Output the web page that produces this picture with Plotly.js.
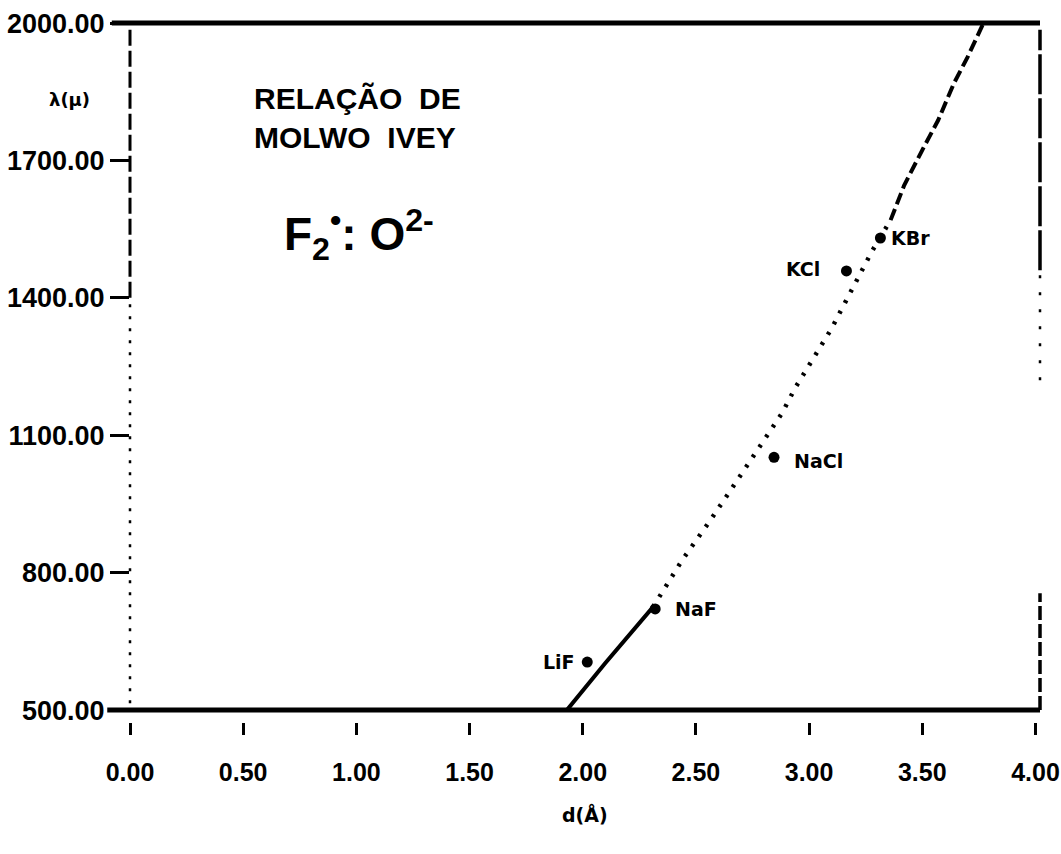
<!DOCTYPE html>
<html>
<head>
<meta charset="utf-8">
<script src="https://cdn.plot.ly/plotly-3.0.1.min.js"></script>
<style>html,body{margin:0;padding:0;background:#fff;}#chart{width:1061px;height:854px;}</style>
</head>
<body>
<div id="chart"></div>
<script>
// Molwo-Ivey curve: d (Å) vs lambda
var curveD =      [1.93, 2.10, 2.31, 2.44, 2.57, 2.68, 2.78, 2.88, 2.94, 3.00, 3.10, 3.16, 3.22, 3.28, 3.36, 3.42, 3.50, 3.57, 3.64, 3.70, 3.77];
var curveLambda = [500,  603,  725,  828,  919,  998,  1074, 1148, 1205, 1253, 1334, 1391, 1448, 1504, 1570, 1646, 1723, 1788, 1869, 1926, 2000];
// crystals
var crystalNames = ["LiF", "NaF", "NaCl", "KCl", "KBr"];
var crystalD =     [2.02, 2.32, 2.845, 3.165, 3.315];
var crystalLambda = [605, 721, 1052, 1459, 1531];
// axis ticks
var xTicks = [0, 0.5, 1, 1.5, 2, 2.5, 3, 3.5, 4];
var xTickText = ["0.00","0.50","1.00","1.50","2.00","2.50","3.00","3.50","4.00"];
var yTicks = [500, 800, 1100, 1400, 1700, 2000];
var yTickText = ["500.00","800.00","1100.00","1400.00","1700.00","2000.00"];

var solidEnd = 2, dotEnd = 14;
var FONT = '"Liberation Sans", Arial, sans-serif';
var LFONT = '"DejaVu Sans", sans-serif';

var traces = [
  {x: curveD.slice(0, solidEnd + 1), y: curveLambda.slice(0, solidEnd + 1), mode: 'lines',
   line: {color: '#000', width: 4}, hoverinfo: 'skip'},
  {x: curveD.slice(solidEnd, dotEnd + 1), y: curveLambda.slice(solidEnd, dotEnd + 1), mode: 'lines',
   line: {color: '#000', width: 4.5, dash: '3px,9px'}, hoverinfo: 'skip'},
  {x: curveD.slice(dotEnd), y: curveLambda.slice(dotEnd), mode: 'lines',
   line: {color: '#000', width: 4, dash: '12px,5px'}, hoverinfo: 'skip'},
  {x: crystalD, y: crystalLambda, mode: 'markers', marker: {color: '#000', size: 11}, text: crystalNames, hoverinfo: 'text'}
];

var labelShift = {LiF: [-10, 0, 'right'], NaF: [18, 0, 'left'], NaCl: [18, -4, 'left'], KCl: [-24, 2, 'right'], KBr: [9, 0, 'left']};
var annotations = crystalNames.map(function (n, i) {
  var s = labelShift[n];
  return {x: crystalD[i], y: crystalLambda[i], xref: 'x', yref: 'y', text: '<b>' + n + '</b>', showarrow: false,
          xanchor: s[2], yanchor: 'middle', xshift: s[0], yshift: s[1],
          font: {family: LFONT, size: 19, color: '#000'}};
});
annotations.push(
  {xref: 'paper', yref: 'paper', x: 0.134, y: 0.864, xanchor: 'left', yanchor: 'middle', align: 'left', showarrow: false,
   text: '<b>RELAÇÃO  DE<br>MOLWO  IVEY</b>', font: {family: FONT, size: 30, color: '#000'}},
  {xref: 'paper', yref: 'paper', x: 0.167, y: 0.697, xanchor: 'left', yanchor: 'middle', showarrow: false,
   text: '<b>F<sub>2</sub><sup>•</sup>: O<sup>2-</sup></b>', font: {family: FONT, size: 46, color: '#000'}},
  {xref: 'paper', yref: 'paper', x: -0.066, y: 0.890, xanchor: 'center', yanchor: 'middle', showarrow: false,
   text: '<b>λ(μ)</b>', font: {family: LFONT, size: 18, color: '#000'}},
  {xref: 'paper', yref: 'paper', x: 0.5, y: -0.133, xanchor: 'center', yanchor: 'middle', showarrow: false,
   text: '<b>d(Å)</b>', font: {family: LFONT, size: 19, color: '#000'}}
);

var shapes = [
  {type: 'line', xref: 'paper', yref: 'y domain', x0: -0.02, x1: 1, y0: 1, y1: 1, line: {color: '#000', width: 5}},
  {type: 'line', xref: 'paper', yref: 'y domain', x0: -0.025, x1: 1, y0: 0, y1: 0, line: {color: '#000', width: 5}},
  {type: 'line', xref: 'paper', yref: 'y domain', x0: 0, x1: 0, y0: 0.6, y1: 0.99, line: {color: '#000', width: 3, dash: '16px,5px'}},
  {type: 'line', xref: 'paper', yref: 'y domain', x0: 0, x1: 0, y0: 0.01, y1: 0.6, line: {color: '#000', width: 2.5, dash: '3px,9px'}},
  {type: 'line', xref: 'paper', yref: 'y domain', x0: 1, x1: 1, y0: 0.64, y1: 0.99, line: {color: '#000', width: 3.5, dash: '40px,4px'}},
  {type: 'line', xref: 'paper', yref: 'y domain', x0: 1, x1: 1, y0: 0.48, y1: 0.64, line: {color: '#000', width: 2.5, dash: '3px,14px'}},
  {type: 'line', xref: 'paper', yref: 'y domain', x0: 1, x1: 1, y0: 0.0, y1: 0.17, line: {color: '#000', width: 3.5, dash: '14px,4px'}}
];

var layout = {
  width: 1061, height: 854,
  margin: {l: 130, r: 21, t: 23, b: 132},
  paper_bgcolor: '#fff', plot_bgcolor: '#fff',
  showlegend: false,
  xaxis: {range: [0, 4.02], domain: [0, 1], anchor: 'free', position: 0, showline: false, showgrid: false, zeroline: false,
          tickmode: 'array', tickvals: xTicks, ticktext: xTickText, ticks: 'outside', ticklen: 12, tickwidth: 3, tickcolor: '#000',
          ticklabelstandoff: 16, ticklabeloverflow: 'allow', automargin: false,
          tickfont: {family: FONT, size: 25, weight: 'bold', color: '#000'}},
  yaxis: {range: [500, 2000.5], domain: [0.017, 1], showline: false, showgrid: false, zeroline: false,
          tickmode: 'array', tickvals: yTicks, ticktext: yTickText, ticks: 'outside', ticklen: 19, tickwidth: 3, tickcolor: '#000',
          ticklabeloverflow: 'allow', automargin: false,
          tickfont: {family: FONT, size: 27, weight: 'bold', color: '#000'}},
  annotations: annotations,
  shapes: shapes
};

Plotly.newPlot('chart', traces, layout, {displayModeBar: false, staticPlot: true});
</script>
</body>
</html>
